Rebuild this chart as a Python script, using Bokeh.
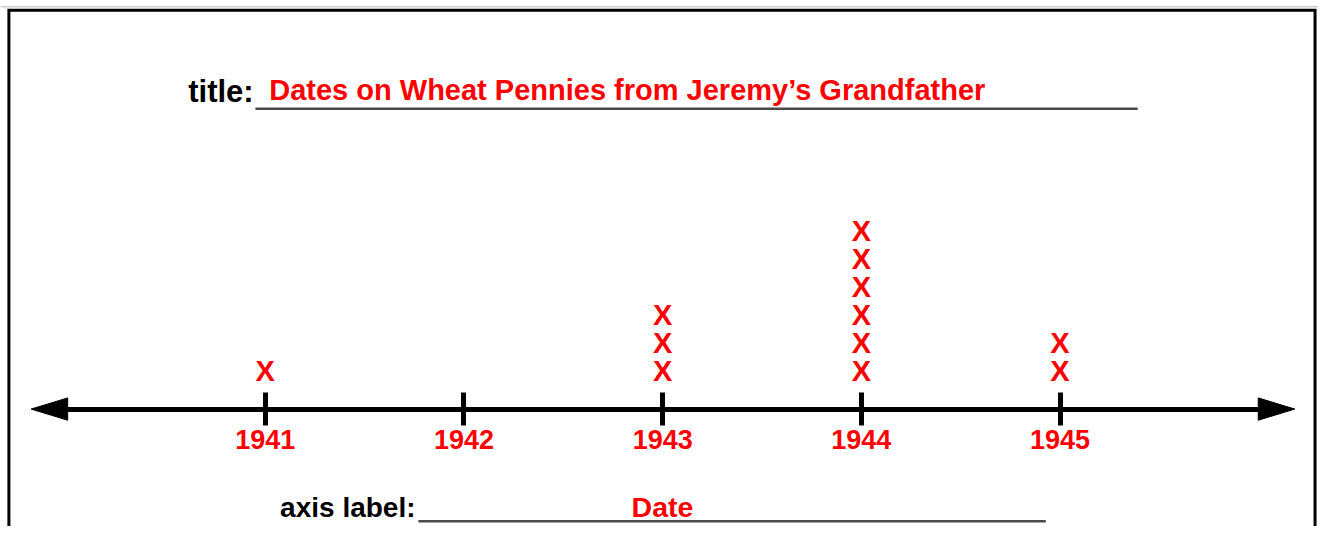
from bokeh.plotting import figure
from bokeh.models import Range1d, FixedTicker
from bokeh.core.properties import value
from bokeh.embed import file_html
from bokeh.resources import INLINE

# ---- data ----
years = [1941, 1942, 1943, 1944, 1945]
counts = [1, 0, 3, 6, 2]
tick_labels = ["1941", "1942", "1943", "1944", "1945"]
title_prefix = "title:"
title_text = "Dates on Wheat Pennies from Jeremy\u2019s Grandfather"
axis_prefix = "axis label:"
axis_text = "Date"

# ---- layout helpers (reference-pixel -> data) ----
W, H = 1318, 526
REF_W, REF_H = 1334, 542
X0_PX, DX_PX = 268.0, 201.1   # pixel of first year, pixels per year
L1_PX, DL_PX = 382.0, 29.0    # pixel of stack level 1, pixels per level


def fx(px):
    return years[0] + (px - X0_PX) / DX_PX


def fy(py):
    return 1 + (L1_PX - py) / DL_PX


FONT = value("Liberation Sans")
RED = "#ff0000"

p = figure(width=W, height=H, output_backend="svg", toolbar_location=None,
           x_range=Range1d(fx(0), fx(REF_W)),
           y_range=Range1d(fy(REF_H), fy(0)),
           x_axis_location="below", y_axis_location=None,
           min_border=0, min_border_left=0, min_border_right=0,
           min_border_top=0, min_border_bottom=0)
p.outline_line_color = None
p.background_fill_color = "white"
p.border_fill_color = "white"
p.xgrid.visible = False
p.ygrid.visible = False

# faint page edge and worksheet frame
p.segment(x0=[fx(0)], y0=[fy(6.5)], x1=[fx(REF_W)], y1=[fy(6.5)],
          line_width=1.5, line_color="#cccccc")
p.line(x=[fx(8.5), fx(8.5), fx(1330.5), fx(1330.5)],
       y=[fy(700), fy(10), fy(10), fy(700)],
       line_width=3, line_color="black", line_join="miter")

# title line (text y = visual centre)
p.text(x=[fx(190)], y=[fy(94)], text=[title_prefix], text_font=FONT,
       text_font_style="bold", text_font_size="31px", text_color="black",
       text_align="left", text_baseline="alphabetic")
p.segment(x0=[fx(258)], y0=[fy(111.5)], x1=[fx(1151)], y1=[fy(111.5)],
          line_width=2.5, line_color="#4a4a4a")
p.text(x=[fx(272)], y=[fy(92)], text=[title_text], text_font=FONT,
       text_font_style="bold", text_font_size="29px", text_color=RED,
       text_align="left", text_baseline="alphabetic")

# axis label line
p.text(x=[fx(283)], y=[fy(522)], text=[axis_prefix], text_font=FONT,
       text_font_style="bold", text_font_size="28px", text_color="black",
       text_align="left", text_baseline="alphabetic")
p.segment(x0=[fx(423)], y0=[fy(536.5)], x1=[fx(1058)], y1=[fy(536.5)],
          line_width=2.5, line_color="#4a4a4a")
p.text(x=[fx(670)], y=[fy(522)], text=[axis_text], text_font=FONT,
       text_font_style="bold", text_font_size="28.5px", text_color=RED,
       text_align="center", text_baseline="alphabetic")

# number line arrowheads
p.patches(xs=[[fx(31), fx(68), fx(68)], [fx(1310), fx(1273), fx(1273)]],
          ys=[[fy(421), fy(409.5), fy(432.5)], [fy(421), fy(409.5), fy(432.5)]],
          fill_color="black", line_color="black", line_width=1)

# number line axis
ax = p.xaxis[0]
ax.fixed_location = fy(421)
ax.bounds = (fx(60), fx(1280))
ax.ticker = FixedTicker(ticks=years)
ax.major_label_overrides = {yr: lab for yr, lab in zip(years, tick_labels)}
ax.minor_tick_line_color = None
ax.axis_line_width = 5
ax.axis_line_color = "black"
ax.major_tick_line_width = 5
ax.major_tick_line_color = "black"
ax.major_tick_in = 17
ax.major_tick_out = 16
ax.major_label_standoff = 5
ax.major_label_text_color = RED
ax.major_label_text_font = "Liberation Sans"
ax.major_label_text_font_style = "bold"
ax.major_label_text_font_size = "27px"

# X marks stacked over each year
xs, ys = [], []
for yr, c in zip(years, counts):
    for k in range(1, c + 1):
        xs.append(yr)
        ys.append(k)
p.text(x=xs, y=ys, text=["X"] * len(xs), text_font=FONT,
       text_font_style="bold", text_font_size="29px", text_color=RED,
       text_align="center", text_baseline="alphabetic")

open("out.html", "w").write(file_html(p, INLINE))
